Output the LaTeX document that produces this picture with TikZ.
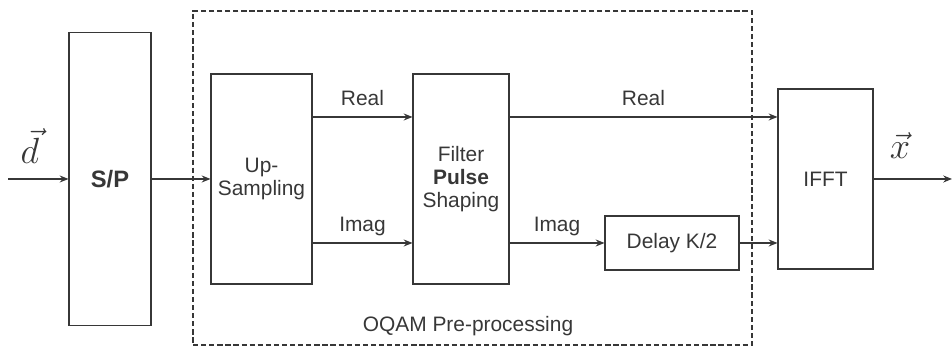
\documentclass[tikz,border=0pt]{standalone}
\usepackage{fontspec}
\setmainfont{Liberation Sans}
\usepackage{amsmath}
\definecolor{blkgray}{RGB}{55,55,55}
\usetikzlibrary{arrows.meta,positioning}

\begin{document}
\begin{tikzpicture}[
    blockbox/.style={draw=blkgray, line width=0.6pt, inner sep=0pt, text=blkgray,
                font=\fontsize{11.9}{13}\selectfont, align=center},
    arr/.style={-{Stealth[length=5pt,width=4pt]}, line width=0.6pt, blkgray},
    lbl/.style={font=\fontsize{11.9}{13}\selectfont, text=blkgray, text depth=0pt, inner sep=0pt},
    veclbl/.style={font=\fontsize{20}{24}\selectfont, text=blkgray, inner sep=1pt}
  ]
    \useasboundingbox (0,0) rectangle (19.04,6.94);

    % Pre-processing frame
    \node[draw=blkgray, dash pattern=on 3pt off 1.6pt, line width=0.6pt,
          minimum width=11.18cm, minimum height=6.68cm, inner sep=0pt] (oqam) at (9.45,3.38) {};
    \node[lbl] (oqamlbl) at (9.36,0.46) {OQAM Pre-processing};

    % Blocks
    \node[blockbox, minimum width=1.64cm, minimum height=5.86cm,
          font=\fontsize{13.5}{15}\selectfont\bfseries] (sp) at (2.2,3.36) {S/P};
    \node[blockbox, minimum width=2.02cm, minimum height=4.2cm] (upsamp) at (5.23,3.36) {Up-\\Sampling};
    \node[blockbox, minimum width=1.92cm, minimum height=4.2cm] (filter) at (9.22,3.36) {Filter\\\textbf{Pulse}\\Shaping};
    \node[blockbox, minimum width=2.68cm, minimum height=1.08cm] (delay) at (13.44,2.08) {Delay K/2};
    \node[blockbox, minimum width=1.9cm, minimum height=3.6cm] (ifft) at (16.51,3.36) {IFFT};

    % Input, output and rails
    \coordinate (din) at (0.16,3.36);
    \coordinate (xout) at (19.04,3.36);
    \coordinate (realy) at (0,4.6);
    \coordinate (imagy) at (0,2.08);
    \node[veclbl] (dlbl) at (0.6,4.02) {$\vec{d}$};
    \node[veclbl] (xlbl) at (18.0,4.02) {$\vec{x}$};

    % Arrows
    \draw[arr] (din) -- (sp);
    \draw[arr] (sp) -- (upsamp);
    \draw[arr] (upsamp.east |- realy) -- node[lbl, above=6pt] {Real} (filter.west |- realy);
    \draw[arr] (upsamp.east |- imagy) -- node[lbl, above=6pt] {Imag} (filter.west |- imagy);
    \draw[arr] (filter.east |- realy) -- node[lbl, above=6pt] {Real} (ifft.west |- realy);
    \draw[arr] (filter.east |- imagy) -- node[lbl, above=6pt] {Imag} (delay);
    \draw[arr] (delay) -- (ifft.west |- imagy);
    \draw[arr] (ifft) -- (xout);
  \end{tikzpicture}
\end{document}
